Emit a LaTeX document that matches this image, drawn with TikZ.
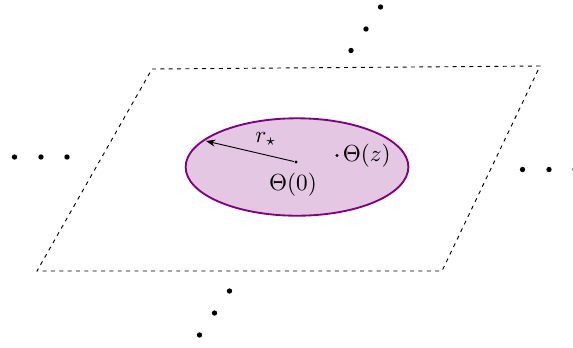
\documentclass[tikz,border=0pt]{standalone}
\usetikzlibrary{shapes.geometric,arrows.meta}
\definecolor{mypurple}{RGB}{128,0,128}
\begin{document}
\begin{tikzpicture}[x=0.431pt,y=-0.431pt,
  bigdot/.style={circle,fill=black,inner sep=0pt,minimum size=2.3pt},
  smalldot/.style={circle,fill=black,inner sep=0pt,minimum size=1.4pt},
  planeline/.style={dash pattern=on 1.7pt off 1.9pt,line width=0.4pt},
  disc/.style={ellipse,draw=mypurple,fill=mypurple!22,line width=0.8pt,inner sep=0pt,minimum width=96pt,minimum height=42pt}]
\useasboundingbox (0,0) rectangle (573,347);
% plane
\coordinate (p1) at (152,69);
\coordinate (p2) at (540,66);
\coordinate (p3) at (442,271);
\coordinate (p4) at (37,271);
\draw[planeline] (p1) -- (p2) -- (p3) -- (p4) -- cycle;
% disc
\node[disc] (E) at (297,167) {};
\node[smalldot] (c0) at (296,162) {};
\coordinate (rim) at (206,141);
\draw[line width=0.4pt,-{Stealth[length=4pt,width=3pt]}] (c0) -- (rim);
\node (rlab) at (266,139) {$r_\star$};
\node (t0) at (293,185) {$\Theta(0)$};
\node[smalldot] (cz) at (337,155.5) {};
\node[anchor=west,inner sep=1pt] (tz) at (340,156) {$\Theta(z)$};
% dots
\node[bigdot] (a1) at (351,50.5) {};
\node[bigdot] (a2) at (366,29) {};
\node[bigdot] (a3) at (380.5,7) {};
\node[bigdot] (b1) at (14.5,157) {};
\node[bigdot] (b2) at (41,157) {};
\node[bigdot] (b3) at (67,157) {};
\node[bigdot] (d1) at (522.5,169.5) {};
\node[bigdot] (d2) at (549,169.5) {};
\node[bigdot] (d3) at (575,169.5) {};
\node[bigdot] (e1) at (229.5,291) {};
\node[bigdot] (e2) at (214.5,313) {};
\node[bigdot] (e3) at (199.5,335) {};
\end{tikzpicture}
\end{document}
